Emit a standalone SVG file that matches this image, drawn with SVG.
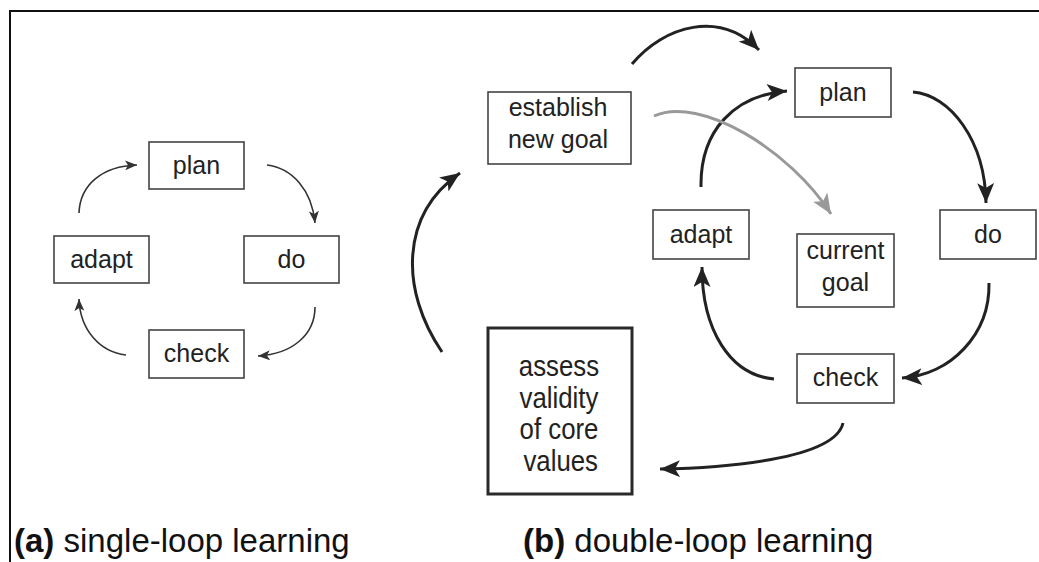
<svg xmlns="http://www.w3.org/2000/svg" width="1039" height="562" viewBox="0 0 1039 562">
<style>
  .box { fill: #fff; stroke: #444; stroke-width: 1.6; }
  .bbox { fill: #fff; stroke: #2a2a2a; stroke-width: 3; }
  .t { font-family: "Liberation Sans", Arial, sans-serif; font-size: 25px; fill: #222; text-anchor: middle; }
  .tc { font-family: "Liberation Sans", Arial, sans-serif; font-size: 30px; fill: #222; text-anchor: middle; }
  .lbl { font-family: "Liberation Sans", Arial, sans-serif; font-size: 33px; fill: #111; }
  .thin { fill: none; stroke: #333; stroke-width: 1.6; marker-end: url(#ahS); }
  .thick { fill: none; stroke: #222; stroke-width: 3; marker-end: url(#ahB); }
  .gray { fill: none; stroke: #999; stroke-width: 3; marker-end: url(#ahG); }
</style>
<defs>
  <marker id="ahS" viewBox="0 0 12 10" markerWidth="12" markerHeight="10" refX="12" refY="5" orient="auto" markerUnits="userSpaceOnUse">
    <path d="M0,0 L12,5 L0,10 L3,5 z" fill="#333"/>
  </marker>
  <marker id="ahB" viewBox="0 0 20 17" markerWidth="20" markerHeight="17" refX="20" refY="8.5" orient="auto" markerUnits="userSpaceOnUse">
    <path d="M0,0 L20,8.5 L0,17 L5,8.5 z" fill="#222"/>
  </marker>
  <marker id="ahG" viewBox="0 0 20 17" markerWidth="20" markerHeight="17" refX="20" refY="8.5" orient="auto" markerUnits="userSpaceOnUse">
    <path d="M0,0 L20,8.5 L0,17 L5,8.5 z" fill="#999"/>
  </marker>
</defs>
<rect width="1039" height="562" fill="#fff"/>
<g id="frame" stroke="#111" stroke-width="2" fill="none">
  <path d="M10,562 L10,11 L1039,11"/>
</g>

<g id="connectors">
  <!-- single loop -->
  <path class="thin" d="M267,165 C292,168 312,190 315,223"/>
  <path class="thin" d="M315,307 C315,335 292,354 258,356"/>
  <path class="thin" d="M126,355 C100,352 80,330 79,299"/>
  <path class="thin" d="M79,213 C80,185 102,166 137,165"/>
  <!-- double loop -->
  <path class="thick" d="M442,352 C400,290 400,215 460,173"/>
  <path class="thick" d="M632,64 C665,25 720,10 759,50"/>
  <path class="thick" d="M701,187 C700,130 735,95 787,91"/>
  <path class="gray" d="M654,116 C700,95 790,150 831,214"/>
  <path class="thick" d="M913,92 C950,95 985,140 986,203"/>
  <path class="thick" d="M989,283 C990,335 950,375 902,378"/>
  <path class="thick" d="M774,379 C730,375 702,330 702,267"/>
  <path class="thick" d="M843,423 C835,460 720,468 660,469"/>
</g>

<g id="a-plan"><rect class="box" x="149" y="142" width="95" height="47"/><text class="t" x="196.5" y="174">plan</text></g>
<g id="a-do"><rect class="box" x="244" y="236" width="95" height="47"/><text class="t" x="291.5" y="268">do</text></g>
<g id="a-adapt"><rect class="box" x="54" y="236" width="95" height="47"/><text class="t" x="101.5" y="268">adapt</text></g>
<g id="a-check"><rect class="box" x="149" y="330" width="95" height="48"/><text class="t" x="196.5" y="362">check</text></g>

<g id="b-establish"><rect class="box" x="488" y="92" width="143" height="72"/><text class="t" x="558" y="116">establish</text><text class="t" x="558" y="148">new goal</text></g>
<g id="b-plan"><rect class="box" x="795" y="68" width="96" height="49"/><text class="t" x="843" y="101">plan</text></g>
<g id="b-adapt"><rect class="box" x="653" y="210" width="96" height="49"/><text class="t" x="701" y="243">adapt</text></g>
<g id="b-current"><rect class="box" x="797" y="234" width="97" height="73"/><text class="t" x="845.5" y="259">current</text><text class="t" x="845.5" y="291">goal</text></g>
<g id="b-do"><rect class="box" x="940" y="210" width="96" height="49"/><text class="t" x="988" y="243">do</text></g>
<g id="b-check"><rect class="box" x="797" y="354" width="97" height="49"/><text class="t" x="845.5" y="386">check</text></g>
<g id="b-assess"><rect class="bbox" x="488" y="328" width="144" height="166"/>
  <g transform="translate(559,0) scale(0.86,1)">
    <text class="tc" x="0" y="376">assess</text>
    <text class="tc" x="0" y="408">validity</text>
    <text class="tc" x="0" y="439">of core</text>
    <text class="tc" x="2" y="471">values</text>
  </g>
</g>

<g id="labels">
  <text class="lbl" x="14" y="552"><tspan font-weight="bold">(a)</tspan> single-loop learning</text>
  <text class="lbl" x="523" y="552"><tspan font-weight="bold">(b)</tspan> double-loop learning</text>
</g>
</svg>
